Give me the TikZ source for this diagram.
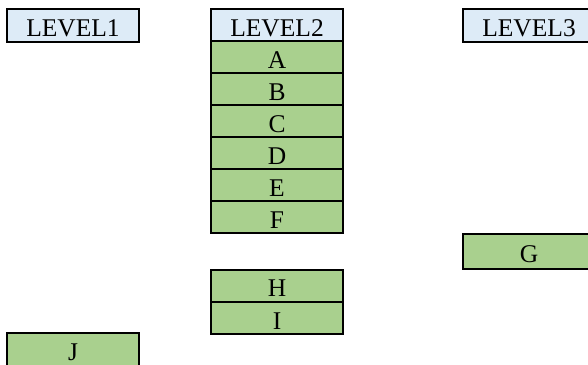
\documentclass[tikz,border=0pt]{standalone}
\usepackage{fontspec}
\setmainfont{Liberation Serif}
\definecolor{hdrblue}{HTML}{DDEBF7}
\definecolor{cellgreen}{HTML}{A9D08E}
\begin{document}
\begin{tikzpicture}[x=1pt,y=-1pt,
  cellbase/.style={draw=black, line width=2pt, inner sep=0pt, outer sep=0pt,
    minimum width=132pt, text=black, text height=22pt, text depth=0pt,
    font=\fontsize{25.5}{25.5}\selectfont},
  hdr/.style={cellbase, fill=hdrblue, minimum height=33pt},
  cell/.style={cellbase, fill=cellgreen, minimum height=32pt}]
\useasboundingbox (0,0) rectangle (588,364);
\clip (0,0) rectangle (588,364);

% column headers
\node[hdr] (lv1) at (73,25.5) {LEVEL1};
\node[hdr] (lv2) at (277,25) {LEVEL2};
\node[hdr] (lv3) at (529,25.5) {LEVEL3};

% LEVEL2 stack
\node[cell] (a) at (277,57)  {A};
\node[cell] (b) at (277,89)  {B};
\node[cell] (c) at (277,121) {C};
\node[cell] (d) at (277,153) {D};
\node[cell] (e) at (277,185) {E};
\node[cell] (f) at (277,217) {F};

% second LEVEL2 group
\node[cell] (h) at (277,285.5) {H};
\node[cell] (i) at (277,318) {I};

% LEVEL3 item
\node[cell, minimum height=35pt] (g) at (529,251.5) {G};

% LEVEL1 item
\node[cell, minimum height=33pt] (j) at (73,349.5) {J};
\end{tikzpicture}
\end{document}
